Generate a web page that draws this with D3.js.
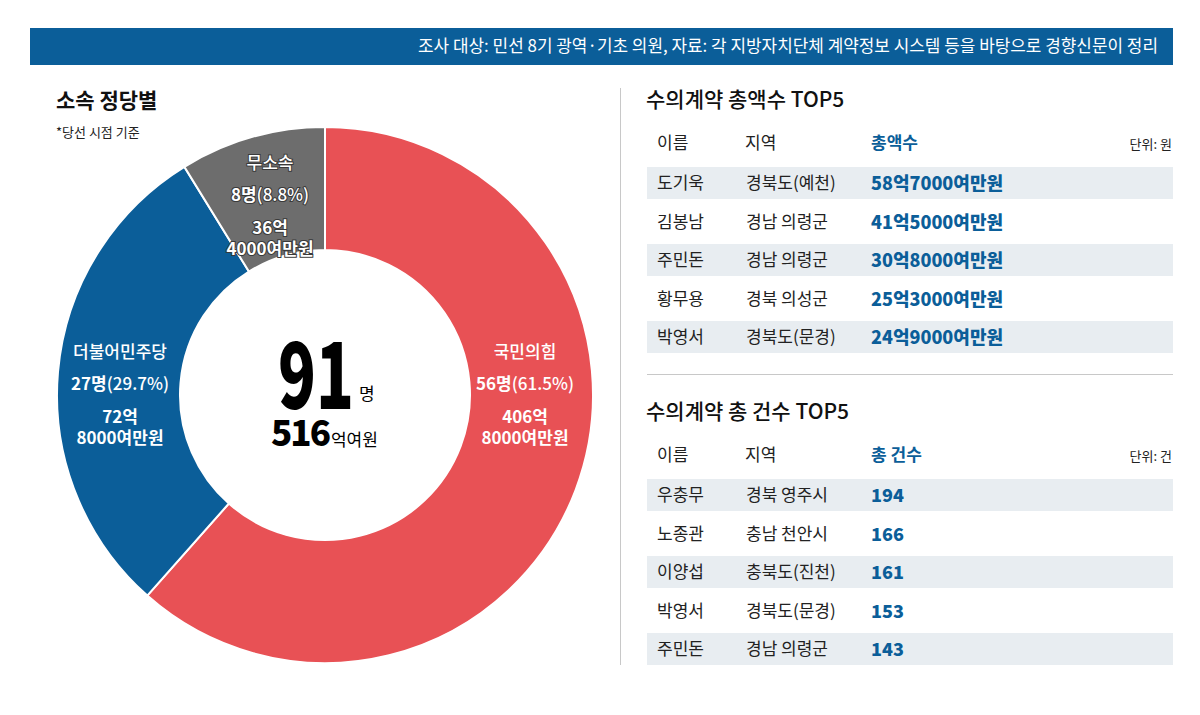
<!DOCTYPE html>
<html>
  <head>
    <meta charset="UTF-8">
    <style>
      body {
        margin: 0;
        background: white;
        font-family: "Noto Sans CJK KR", "Noto Sans", sans-serif;
      }
      svg { display: block; }
    </style>
    <script src="https://cdn.jsdelivr.net/npm/d3@7"></script>
  </head>
  <body>
    <svg id="Chart"></svg>
    <script>
      // donut: party breakdown
      let parties = ['국민의힘', '더불어민주당', '무소속'];
      let seats = [56, 27, 8];
      let seatShare = ['61.5%', '29.7%', '8.8%'];
      let amountTop = ['406억', '72억', '36억'];
      let amountBottom = ['8000여만원', '8000여만원', '4000여만원'];
      let partyColors = ['#e85155', '#0b5e99', '#6d6d6d'];
      let totalSeats = 91;
      let totalAmount = 516;

      // table 1: total amount top 5
      let amountNames = ['도기욱', '김봉남', '주민돈', '황무용', '박영서'];
      let amountRegions = ['경북도(예천)', '경남 의령군', '경남 의령군', '경북 의성군', '경북도(문경)'];
      let amountValues = ['58억7000여만원', '41억5000여만원', '30억8000여만원', '25억3000여만원', '24억9000여만원'];

      // table 2: count top 5
      let countNames = ['우충무', '노종관', '이양섭', '박영서', '주민돈'];
      let countRegions = ['경북 영주시', '충남 천안시', '충북도(진천)', '경북도(문경)', '경남 의령군'];
      let countValues = [194, 166, 161, 153, 143];

      let width = 1200, height = 715;
      let blue = '#0b5e99';
      let svg = d3.select('#Chart').attr('width', width).attr('height', height);

      // banner
      svg.append('rect')
        .attr('x', 30).attr('y', 28).attr('width', 1143).attr('height', 37)
        .attr('fill', blue);
      svg.append('text')
        .attr('x', 1158).attr('y', 52)
        .attr('text-anchor', 'end')
        .attr('fill', 'white')
        .attr('font-size', 17)
        .attr('textLength', 740)
        .attr('lengthAdjust', 'spacingAndGlyphs')
        .text('조사 대상: 민선 8기 광역·기초 의원, 자료: 각 지방자치단체 계약정보 시스템 등을 바탕으로 경향신문이 정리');

      // left title
      svg.append('text')
        .attr('x', 56).attr('y', 108)
        .attr('font-size', 21).attr('font-weight', 700).attr('fill', '#111')
        .text('소속 정당별');
      svg.append('text')
        .attr('x', 56).attr('y', 137)
        .attr('font-size', 13).attr('fill', '#222')
        .text('*당선 시점 기준');

      function drawDonut() {
        let cx = 325, cy = 395;
        let outerR = 268, innerR = 145;
        let pie = d3.pie().sort(null).value(d => d.seats);
        let arc = d3.arc().innerRadius(innerR).outerRadius(outerR);
        let data = parties.map((p, i) => ({
          party: p, seats: seats[i], share: seatShare[i],
          top: amountTop[i], bottom: amountBottom[i], color: partyColors[i]
        }));
        let g = svg.append('g').attr('transform', `translate(${cx},${cy})`);
        g.selectAll('path')
          .data(pie(data))
          .enter()
          .append('path')
          .attr('d', arc)
          .attr('fill', d => d.data.color)
          .attr('stroke', 'white')
          .attr('stroke-width', 2);

        // label positions per slice
        let labelPos = [[200, -43], [-205, -43], [-55, -232]];
        let labels = g.selectAll('.lab')
          .data(pie(data))
          .enter()
          .append('g')
          .attr('class', 'lab')
          .attr('transform', (d, i) => `translate(${labelPos[i][0]},${labelPos[i][1]})`)
          .attr('fill', 'white')
          .attr('text-anchor', 'middle')
          .attr('font-size', 17)
          .style('paint-order', 'stroke')
          .attr('stroke', (d, i) => i === 2 ? '#3a3a3a' : 'none')
          .attr('stroke-width', 2);

        labels.append('text').attr('y', 6).attr('font-weight', 500).text(d => d.data.party);
        let shareText = labels.append('text').attr('y', 38);
        shareText.append('tspan').attr('font-weight', 700).text(d => d.data.seats + '명');
        shareText.append('tspan').attr('font-weight', 500).text(d => '(' + d.data.share + ')');
        labels.append('text').attr('y', 71).attr('font-weight', 700).text(d => d.data.top);
        labels.append('text').attr('y', 92).attr('font-weight', 700).text(d => d.data.bottom);

        // center totals
        svg.append('text')
          .attr('x', 278).attr('y', 409)
          .attr('font-size', 92).attr('font-weight', 900)
          .attr('textLength', 76)
          .attr('lengthAdjust', 'spacingAndGlyphs')
          .attr('fill', '#000')
          .text(totalSeats);
        svg.append('text')
          .attr('x', 359).attr('y', 400)
          .attr('font-size', 17).attr('fill', '#000')
          .text('명');
        let t = svg.append('text')
          .attr('x', 271).attr('y', 446)
          .attr('fill', '#000');
        t.append('tspan').attr('font-size', 35).attr('font-weight', 900).attr('letter-spacing', -2).text(totalAmount);
        t.append('tspan').attr('font-size', 17).attr('dx', 2).text('억여원');
      }

      // divider
      svg.append('line')
        .attr('x1', 620.5).attr('x2', 620.5).attr('y1', 88).attr('y2', 665)
        .attr('stroke', '#c8c8c8');
      svg.append('line')
        .attr('x1', 647).attr('x2', 1173).attr('y1', 374.5).attr('y2', 374.5)
        .attr('stroke', '#c8c8c8');

      function drawTable(top, title, valueHeader, unit, names, regions, values) {
        let g = svg.append('g');
        g.append('text')
          .attr('x', 646).attr('y', top + 15)
          .attr('font-size', 21).attr('font-weight', 500).attr('fill', '#111')
          .text(title);
        let headerY = top + 57;
        g.append('text').attr('x', 657).attr('y', headerY).attr('font-size', 17).attr('fill', '#222').text('이름');
        g.append('text').attr('x', 745).attr('y', headerY).attr('font-size', 17).attr('fill', '#222').text('지역');
        g.append('text').attr('x', 871).attr('y', headerY).attr('font-size', 17).attr('font-weight', 700).attr('fill', blue).text(valueHeader);
        g.append('text').attr('x', 1172).attr('y', headerY).attr('text-anchor', 'end').attr('font-size', 13).attr('fill', '#222').text(unit);

        let y = d3.scaleBand()
          .domain(d3.range(names.length))
          .range([top + 75, top + 75 + 38.5 * names.length]);

        let rows = g.selectAll('.row')
          .data(names.map((n, i) => ({name: n, region: regions[i], value: values[i], i})))
          .enter()
          .append('g')
          .attr('transform', d => `translate(0,${y(d.i)})`);
        rows.filter(d => d.i % 2 === 0)
          .append('rect')
          .attr('x', 647).attr('y', 0)
          .attr('width', 526).attr('height', 32)
          .attr('fill', '#e8edf1');
        rows.append('text').attr('x', 657).attr('y', 22).attr('font-size', 17).attr('fill', '#222').text(d => d.name);
        rows.append('text').attr('x', 746).attr('y', 22).attr('font-size', 17).attr('fill', '#222').text(d => d.region);
        rows.append('text').attr('x', 871).attr('y', 23).attr('font-size', 18).attr('font-weight', 900)
          .attr('fill', blue).text(d => d.value);
      }

      drawDonut();
      drawTable(92, '수의계약 총액수 TOP5', '총액수', '단위: 원', amountNames, amountRegions, amountValues);
      drawTable(404, '수의계약 총 건수 TOP5', '총 건수', '단위: 건', countNames, countRegions, countValues);
    </script>
  </body>
</html>
